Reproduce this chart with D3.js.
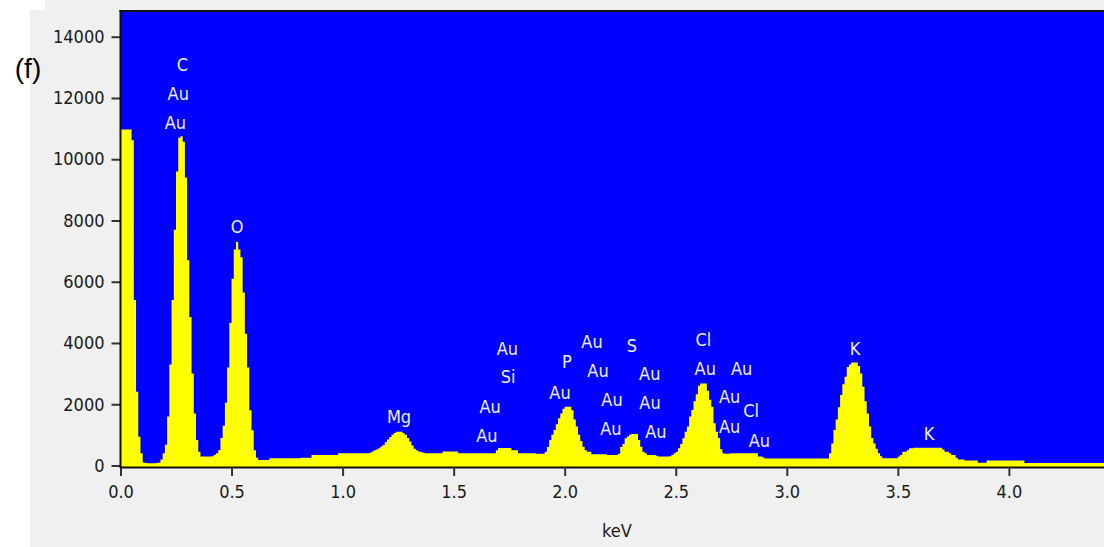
<!DOCTYPE html>
<html>
<head>
<meta charset="utf-8">
<script src="https://cdn.jsdelivr.net/npm/d3@7"></script>
<style>
  html, body { margin: 0; padding: 0; background: #ffffff; }
  svg { display: block; }
  .tick text { font-family: 'DejaVu Sans Condensed', 'DejaVu Sans', sans-serif; }
</style>
</head>
<body>
<svg id="chart" width="1104" height="547"></svg>
<script>
// EDS spectrum: counts per 0.01 keV channel, starting at 0.00 keV
const channelWidth = 0.01;
const counts = [
  10970,10970,10970,10970,10970,10620,5400,2410,940,400,
  100,80,70,70,70,70,80,100,200,400,
  680,1600,3300,5400,7700,9600,10700,10750,10570,9400,
  6700,4850,3000,1700,830,450,290,290,290,290,
  290,300,350,400,500,900,1300,2050,3200,4650,
  6100,7050,7300,7050,6800,5650,4300,3200,1800,1150,
  500,250,180,180,180,180,180,240,240,240,
  240,240,240,240,240,240,240,240,240,240,
  240,250,250,250,250,250,340,340,340,340,
  340,340,340,340,340,340,340,340,400,400,
  400,400,400,400,400,400,400,400,400,400,
  400,400,420,460,500,520,560,620,670,760,
  850,930,1000,1060,1100,1100,1100,1050,1000,900,
  780,650,550,500,460,440,420,400,400,400,
  400,400,400,400,400,460,460,460,460,460,
  460,460,400,400,400,400,400,400,400,400,
  400,400,400,400,400,400,400,400,400,500,
  570,570,570,570,570,570,500,500,500,400,
  400,400,400,400,400,400,400,380,380,380,
  380,450,600,830,1000,1160,1350,1540,1700,1850,
  1920,1920,1920,1800,1500,1270,1000,800,610,500,
  450,450,370,370,370,370,370,370,370,340,
  340,340,340,340,380,600,700,890,950,1000,
  1030,1030,1030,830,610,450,400,340,340,340,
  340,320,290,290,290,290,290,300,340,400,
  450,560,700,890,1100,1270,1600,1810,2100,2330,
  2600,2680,2680,2680,2440,2150,1920,1380,1100,900,
  530,400,380,380,390,400,400,400,400,400,
  400,400,400,400,400,400,400,290,290,260,
  230,230,230,230,230,230,230,230,230,230,
  230,230,230,230,230,230,230,230,230,230,
  230,230,230,230,230,230,230,230,230,400,
  720,1160,1500,1900,2300,2650,2900,3220,3300,3360,
  3360,3360,3250,3000,2570,2100,1700,1270,900,720,
  550,400,300,235,235,235,235,235,235,235,
  290,340,450,450,500,560,560,580,580,580,
  580,580,580,580,580,580,580,580,580,580,
  520,450,450,400,340,340,250,200,200,200,
  160,160,160,160,160,160,90,90,90,90,
  160,160,160,160,160,160,160,160,160,160,
  160,160,160,160,160,160,160,80,80,80,
  80,80,80,80,80,80,80,80,80,80,
  80,80,80,80,80,80,80,80,80,80,
  80,80,80,80,80,80,80,80,80,80,
  80,80,80,80,80
];

// Axis ticks
const xTicks = [0.0, 0.5, 1.0, 1.5, 2.0, 2.5, 3.0, 3.5, 4.0];
const yTicks = [0, 2000, 4000, 6000, 8000, 10000, 12000, 14000];

// Element identification labels (position in keV / counts)
const labelText   = ["C", "Au", "Au", "O", "Mg",
                     "Au", "Si", "Au", "Au",
                     "P", "Au",
                     "Au", "Au", "Au", "Au",
                     "S", "Au", "Au", "Au",
                     "Cl", "Au", "Au", "Au", "Cl", "Au", "Au",
                     "K", "K"];
const labelKeV    = [0.279, 0.260, 0.247, 0.525, 1.254,
                     1.742, 1.745, 1.664, 1.650,
                     2.010, 1.979,
                     2.123, 2.150, 2.213, 2.208,
                     2.303, 2.383, 2.384, 2.411,
                     2.624, 2.633, 2.797, 2.743, 2.839, 2.743, 2.877,
                     3.307, 3.640];
const labelCounts = [12875, 11930, 10980, 7590, 1390,
                     3610, 2680, 1710, 780,
                     3170, 2170,
                     3830, 2880, 1950, 1000,
                     3710, 2790, 1840, 890,
                     3900, 2950, 2950, 2030, 1590, 1050, 610,
                     3610, 830];

const svg = d3.select("#chart");
const W = 1104, H = 547;
const plot = { left: 120.5, top: 11, right: 1104, bottom: 467 };

const x = d3.scaleLinear().domain([0, 4.43]).range([plot.left, plot.left + 4.43 * 222.1]);
const y = d3.scaleLinear().domain([0, 14840]).range([465.5, plot.top]);

// Window background
svg.append("rect").attr("x", 45).attr("y", 0).attr("width", W - 45).attr("height", H).attr("fill", "#f0f0f0");
svg.append("rect").attr("x", 30).attr("y", 10).attr("width", W - 30).attr("height", H - 10).attr("fill", "#f0f0f0");

// Panel letter
svg.append("text")
  .attr("x", 28).attr("y", 78)
  .attr("text-anchor", "middle")
  .attr("font-family", "'Liberation Sans', Arial, sans-serif")
  .attr("font-size", 28)
  .attr("fill", "#000")
  .text("(f)");

// Plot background
svg.append("rect")
  .attr("x", plot.left).attr("y", plot.top)
  .attr("width", plot.right - plot.left).attr("height", plot.bottom - plot.top)
  .attr("fill", "#0000ff");

svg.append("clipPath").attr("id", "plotClip")
  .append("rect")
  .attr("x", plot.left).attr("y", plot.top)
  .attr("width", plot.right - plot.left).attr("height", plot.bottom - plot.top);

// Spectrum as a stepped filled area
const pts = counts.map((c, i) => [i * channelWidth, c]);
pts.push([counts.length * channelWidth, counts[counts.length - 1]]);

const area = d3.area()
  .curve(d3.curveStepAfter)
  .x(d => x(d[0]))
  .y0(plot.bottom)
  .y1(d => y(d[1]));

svg.append("path")
  .datum(pts)
  .attr("clip-path", "url(#plotClip)")
  .attr("fill", "#ffff00")
  .attr("d", area);

// Element labels
svg.append("g")
  .attr("font-family", "'DejaVu Sans Condensed', 'DejaVu Sans', sans-serif")
  .attr("font-size", 18)
  .attr("fill", "#eeeeff")
  .attr("text-anchor", "middle")
  .selectAll("text")
  .data(labelText)
  .join("text")
  .attr("x", (d, i) => x(labelKeV[i]))
  .attr("y", (d, i) => y(labelCounts[i]))
  .text(d => d);

// Frame: top border
svg.append("line")
  .attr("x1", plot.left - 1).attr("x2", plot.right)
  .attr("y1", plot.top).attr("y2", plot.top)
  .attr("stroke", "#111").attr("stroke-width", 2);

// Axes
const xAxis = d3.axisBottom(x)
  .tickValues(xTicks)
  .tickFormat(d3.format(".1f"))
  .tickSize(9)
  .tickPadding(9)
  .tickSizeOuter(0);

const gx = svg.append("g")
  .attr("transform", `translate(0,${plot.bottom})`)
  .call(xAxis);
gx.select(".domain").attr("stroke", "#111").attr("stroke-width", 2);
gx.selectAll(".tick line").attr("stroke", "#333").attr("stroke-width", 2);
gx.selectAll(".tick text").attr("font-size", 18).attr("fill", "#1a1a1a");

const yAxis = d3.axisLeft(y)
  .tickValues(yTicks)
  .tickFormat(d3.format("d"))
  .tickSize(9)
  .tickPadding(7)
  .tickSizeOuter(0);

const gy = svg.append("g")
  .attr("transform", `translate(${plot.left},0)`)
  .call(yAxis);
gy.select(".domain").remove();
gy.selectAll(".tick line").attr("stroke", "#333").attr("stroke-width", 2);
gy.selectAll(".tick text").attr("font-size", 18).attr("fill", "#1a1a1a");

svg.append("line")
  .attr("x1", plot.left).attr("x2", plot.left)
  .attr("y1", plot.top - 1).attr("y2", plot.bottom + 1)
  .attr("stroke", "#111").attr("stroke-width", 2);

// Axis title
svg.append("text")
  .attr("x", 617).attr("y", 537)
  .attr("text-anchor", "middle")
  .attr("font-family", "'DejaVu Sans Condensed', 'DejaVu Sans', sans-serif")
  .attr("font-size", 18)
  .attr("fill", "#1a1a1a")
  .text("keV");
</script>
</body>
</html>
